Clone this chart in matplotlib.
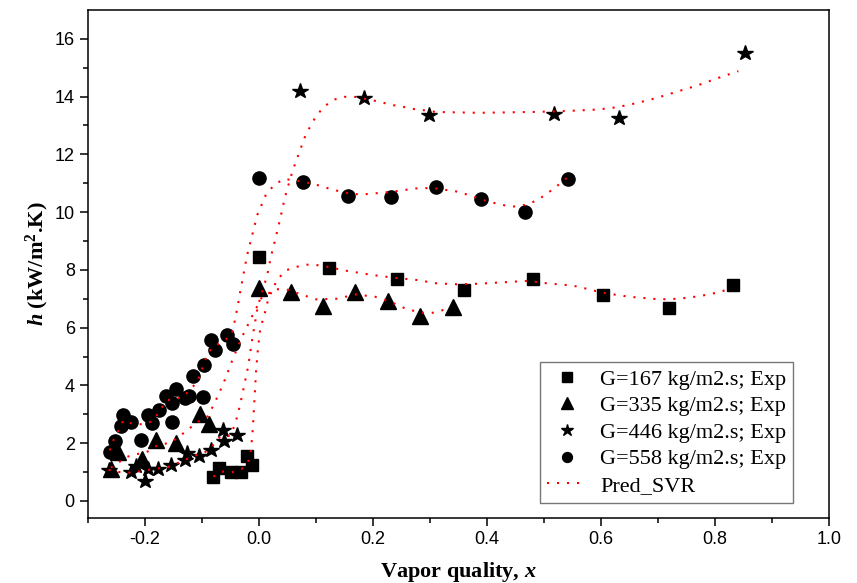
import matplotlib
matplotlib.use('Agg')
import matplotlib.pyplot as plt
import numpy as np

# experimental points
sq_x = [-0.08, -0.071, -0.05, -0.032, -0.021, -0.012, 0.0, 0.122, 0.242, 0.359, 0.48, 0.604, 0.72, 0.832]
sq_y = [0.84, 1.13, 0.99, 0.99, 1.54, 1.23, 8.46, 8.07, 7.67, 7.3, 7.7, 7.13, 6.67, 7.49]

tr_x = [-0.26, -0.248, -0.205, -0.181, -0.146, -0.104, -0.088, 0.0, 0.057, 0.112, 0.168, 0.227, 0.283, 0.34]
tr_y = [1.1, 1.71, 1.45, 2.12, 2.0, 3.02, 2.68, 7.36, 7.22, 6.74, 7.22, 6.91, 6.42, 6.7]

st_x = [-0.264, -0.224, -0.215, -0.2, -0.195, -0.177, -0.155, -0.13, -0.127, -0.106, -0.085,
        -0.062, -0.064, -0.038, 0.072, 0.184, 0.298, 0.517, 0.631, 0.853]
st_y = [1.08, 1.0, 1.2, 0.7, 1.1, 1.12, 1.25, 1.42, 1.65, 1.55, 1.77,
        2.06, 2.45, 2.29, 14.19, 13.96, 13.37, 13.38, 13.26, 15.52]

ci_x = [-0.261, -0.252, -0.243, -0.238, -0.224, -0.207, -0.195, -0.187, -0.175, -0.153, -0.163,
        -0.152, -0.145, -0.13, -0.122, -0.099, -0.115, -0.097, -0.084, -0.078, -0.056, -0.046,
        0.0, 0.078, 0.156, 0.232, 0.31, 0.39, 0.466, 0.543]
ci_y = [1.71, 2.09, 2.58, 2.99, 2.73, 2.12, 2.97, 2.71, 3.15, 2.75, 3.63,
        3.38, 3.88, 3.57, 3.62, 3.59, 4.34, 4.69, 5.57, 5.22, 5.76, 5.42,
        11.18, 11.05, 10.57, 10.52, 10.86, 10.47, 10.01, 11.15]

# SVR prediction curves
p167_x = [-0.08, -0.066, -0.048, -0.031, -0.021, -0.018, -0.014, -0.011, -0.009, -0.007, -0.005,
          -0.002, 0.002, 0.012, 0.016, 0.032, 0.048, 0.067, 0.084, 0.1, 0.122, 0.15, 0.2, 0.24,
          0.277, 0.313, 0.35, 0.384, 0.437, 0.472, 0.507, 0.543, 0.56, 0.602, 0.649, 0.702,
          0.737, 0.773, 0.808, 0.826]
p167_y = [0.84, 1.02, 0.99, 1.1, 1.3, 1.42, 1.77, 2.47, 3.16, 3.85, 4.55,
          5.24, 5.94, 6.63, 6.98, 7.67, 7.99, 8.11, 8.18, 8.17, 8.1, 7.98, 7.82, 7.72,
          7.65, 7.53, 7.5, 7.52, 7.58, 7.62, 7.53, 7.47, 7.42, 7.21, 7.07, 6.98,
          7.0, 7.09, 7.23, 7.35]

p335_x = [-0.26, -0.245, -0.233, -0.215, -0.198, -0.18, -0.161, -0.146, -0.127, -0.109, -0.09,
          -0.081, -0.073, -0.065, -0.058, -0.051, -0.044, -0.029, -0.012, 0.006, 0.012, 0.027,
          0.047, 0.065, 0.083, 0.1, 0.136, 0.17, 0.207, 0.242, 0.26, 0.295, 0.313, 0.33]
p335_y = [1.15, 1.35, 1.52, 1.62, 1.68, 1.9, 2.0, 2.14, 2.43, 2.72, 2.93,
          3.27, 3.6, 3.95, 4.29, 4.66, 5.01, 5.71, 6.4, 7.09, 7.12, 7.33,
          7.33, 7.21, 7.09, 6.98, 7.0, 7.15, 7.06, 6.8, 6.63, 6.49, 6.54, 6.66]

p446_x = [-0.264, -0.245, -0.225, -0.2, -0.183, -0.165, -0.13, -0.115, -0.097, -0.08, -0.068,
          -0.049, -0.038, -0.03, -0.019, -0.011, -0.002, 0.014, 0.021, 0.034, 0.046, 0.056,
          0.062, 0.081, 0.09, 0.1, 0.115, 0.133, 0.15, 0.168, 0.186, 0.204, 0.221, 0.239,
          0.257, 0.274, 0.292, 0.31, 0.327, 0.38, 0.398, 0.487, 0.54, 0.593, 0.628, 0.664,
          0.699, 0.735, 0.77, 0.805, 0.841]
p446_y = [1.08, 1.0, 0.98, 1.05, 1.13, 1.13, 1.42, 1.56, 1.65, 1.94, 2.23,
          2.27, 2.93, 3.62, 4.66, 5.71, 6.75, 7.79, 8.46, 9.5, 10.55, 11.24,
          11.6, 12.63, 12.97, 13.32, 13.67, 13.9, 13.99, 13.99, 13.92, 13.85, 13.77, 13.69,
          13.63, 13.56, 13.52, 13.47, 13.46, 13.44, 13.44, 13.47, 13.5, 13.55, 13.63, 13.78,
          13.96, 14.18, 14.39, 14.64, 14.88]

p558_x = [-0.262, -0.255, -0.245, -0.238, -0.222, -0.2, -0.185, -0.174, -0.162, -0.145, -0.132,
          -0.121, -0.109, -0.096, -0.09, -0.078, -0.062, -0.048, -0.044, -0.037, -0.034, -0.021,
          -0.003, 0.012, 0.027, 0.044, 0.078, 0.097, 0.115, 0.133, 0.15, 0.168, 0.186, 0.204,
          0.221, 0.239, 0.257, 0.274, 0.292, 0.31, 0.327, 0.345, 0.363, 0.38, 0.398, 0.416,
          0.434, 0.451, 0.469, 0.487, 0.504, 0.522, 0.54]
p558_y = [1.75, 2.12, 2.5, 2.79, 2.67, 2.65, 2.79, 3.14, 3.48, 3.55, 3.6,
          3.88, 4.08, 4.78, 5.13, 5.36, 5.53, 5.76, 6.09, 6.78, 7.13, 8.5,
          9.9, 10.6, 10.95, 11.15, 11.05, 10.97, 10.86, 10.76, 10.68, 10.62, 10.62, 10.65,
          10.68, 10.72, 10.77, 10.82, 10.83, 10.82, 10.77, 10.72, 10.62, 10.51, 10.39, 10.3,
          10.22, 10.19, 10.26, 10.4, 10.62, 10.89, 11.18]

xticks = [-0.2, 0.0, 0.2, 0.4, 0.6, 0.8, 1.0]
yticks = [0, 2, 4, 6, 8, 10, 12, 14, 16]

plt.rcParams['mathtext.fontset'] = 'custom'
plt.rcParams['mathtext.rm'] = 'Liberation Serif'
plt.rcParams['mathtext.it'] = 'Liberation Serif:italic'
plt.rcParams['mathtext.bf'] = 'Liberation Serif:bold'
plt.rcParams['mathtext.bfit'] = 'Liberation Serif:bold:italic'

fig = plt.figure(figsize=(8.57, 5.83), dpi=100)
ax = fig.add_axes([0.1027, 0.111, 0.8646, 0.872])

ms_kw = dict(linestyle='none', color='black', markeredgecolor='black')
ax.plot(sq_x, sq_y, marker='s', ms=9, label='G=167 kg/m2.s; Exp', **ms_kw)
ax.plot(tr_x, tr_y, marker='^', ms=11, label='G=335 kg/m2.s; Exp', **ms_kw)
ax.plot(st_x, st_y, marker='*', ms=11.5, label='G=446 kg/m2.s; Exp', **ms_kw)
ax.plot(ci_x, ci_y, marker='o', ms=9.5, label='G=558 kg/m2.s; Exp', **ms_kw)

dot = (0, (1, 3.8))
ax.plot(p167_x, p167_y, color='red', lw=1.5, linestyle=dot, label='Pred_SVR')
ax.plot(p335_x, p335_y, color='red', lw=1.5, linestyle=dot)
ax.plot(p446_x, p446_y, color='red', lw=1.5, linestyle=dot)
ax.plot(p558_x, p558_y, color='red', lw=1.5, linestyle=dot)

ax.set_xlim(-0.3, 1.0)
ax.set_ylim(-0.6, 17)
ax.set_xticks(xticks)
ax.set_xticklabels([f'{v:.1f}' for v in xticks])
ax.set_yticks(yticks)
ax.set_xticks(np.arange(-0.3, 1.01, 0.1), minor=True)
ax.set_yticks(np.arange(1, 17, 2), minor=True)
ax.tick_params(which='both', direction='out', top=False, right=False, width=1.1)
ax.tick_params(which='major', length=6, labelsize=13)
ax.tick_params(which='minor', length=3.5)
for lab in ax.get_xticklabels() + ax.get_yticklabels():
    lab.set_family('Liberation Sans')
for s in ax.spines.values():
    s.set_linewidth(1.1)

ax.set_xlabel(r'Vapor quality, $\mathbfit{x}$', family='Liberation Serif',
              fontweight='bold', fontsize=16, labelpad=8)
ax.set_ylabel(r'$\mathbfit{h}$ (kW/m$^{\mathbf{2}}$.K)', family='Liberation Serif',
              fontweight='bold', fontsize=16, labelpad=3)

leg = ax.legend(loc='lower right', bbox_to_anchor=(0.951, 0.031), borderaxespad=0,
                prop={'family': 'Liberation Serif', 'size': 16}, fancybox=False,
                edgecolor='#777777', labelspacing=0.27, handlelength=1.8,
                handletextpad=0.6, borderpad=0.3, framealpha=1, markerscale=0.75)
leg.get_frame().set_linewidth(1.0)

fig.savefig('out.png', dpi=100)
